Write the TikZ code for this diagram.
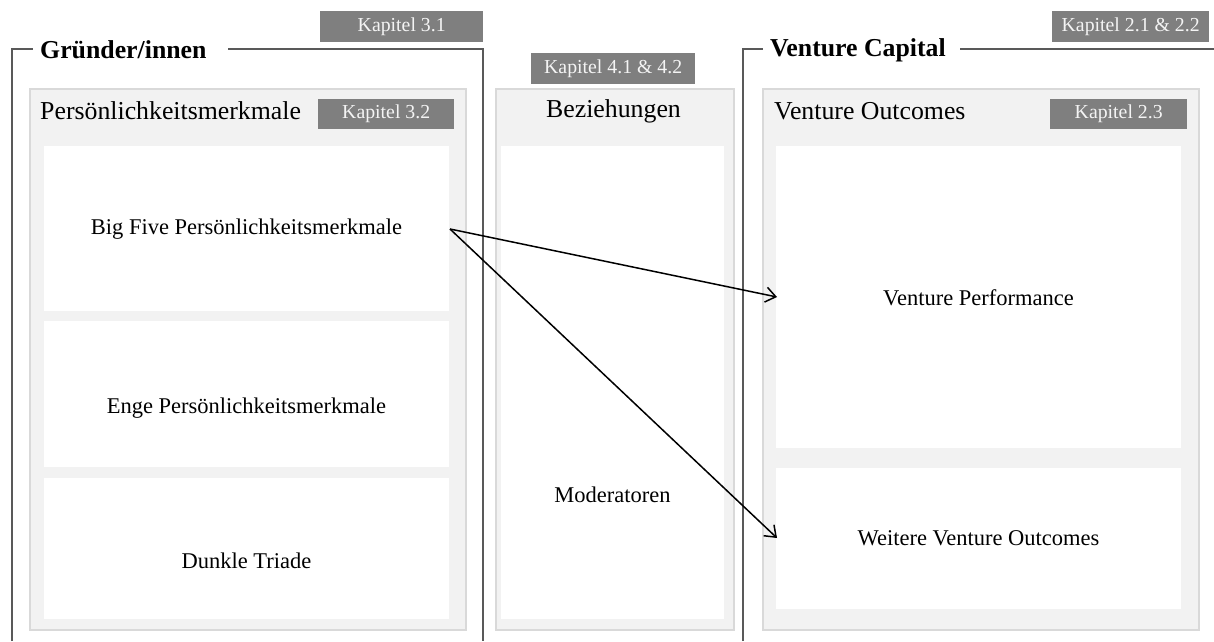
\documentclass[tikz,border=0pt]{standalone}
\usepackage{fontspec}
\setmainfont{Liberation Serif}
\usetikzlibrary{arrows.meta}
\definecolor{panelfill}{HTML}{F2F2F2}
\definecolor{panelline}{HTML}{D9D9D9}
\definecolor{kapfill}{HTML}{7F7F7F}
\definecolor{kaptext}{HTML}{F4F4F4}
\definecolor{frameline}{HTML}{595959}
\tikzset{
  panel/.style={draw=panelline, fill=panelfill, line width=2pt, anchor=north west, inner sep=0pt},
  whitebox/.style={fill=white, draw=none, anchor=north west, inner sep=0pt},
  kap/.style={fill=kapfill, text=kaptext, anchor=north west, inner sep=0pt, font=\fontsize{19.8}{23}\selectfont},
  body/.style={font=\fontsize{22.5}{27}\selectfont, inner sep=0pt},
  head/.style={font=\fontsize{25.8}{30}\selectfont, inner sep=0pt},
  grptitle/.style={font=\fontsize{25.8}{30}\selectfont\bfseries, inner sep=0pt, anchor=west},
  frame/.style={draw=frameline, line width=1.5pt},
  conn/.style={line width=1.5pt, -{Straight Barb[length=10pt,width=15pt,line width=1.5pt]}}
}
\begin{document}
\begin{tikzpicture}[x=1pt,y=-1pt]
\useasboundingbox (0,0) rectangle (1214,641);
% group frames
\node[grptitle] (tG) at (40,50) {Gründer/innen};
\node[grptitle] (tV) at (770,50) {Venture Capital};
\draw[frame] (12,641) |- (33,49);
\draw[frame] (228,49) -| (483,641);
\draw[frame] (743,641) |- (763,49);
\draw[frame] (960,49) -- (1214,49);
% chapter labels (top)
\node[kap, minimum width=163pt, minimum height=31pt] (k31) at (320,11) {Kapitel 3.1};
\node[kap, minimum width=157pt, minimum height=31pt] (k21) at (1052,11) {Kapitel 2.1 \& 2.2};
\node[kap, minimum width=164pt, minimum height=31pt] (k41) at (531,53) {Kapitel 4.1 \& 4.2};
% panels
\node[panel, minimum width=436pt, minimum height=541pt] (pL) at (29,88) {};
\node[panel, minimum width=238pt, minimum height=541pt] (pM) at (494.5,88) {};
\node[panel, minimum width=436pt, minimum height=541pt] (pR) at (762,88) {};
\node[kap, minimum width=136pt, minimum height=30pt] (k32) at (318,99) {Kapitel 3.2};
\node[kap, minimum width=137pt, minimum height=30pt] (k23) at (1050,99) {Kapitel 2.3};
\node[head, anchor=west] (hL) at (40,111) {Persönlichkeitsmerkmale};
\node[head] (hM) at (613.5,111) {Beziehungen};
\node[head, anchor=west] (hR) at (774,111) {Venture Outcomes};
% white boxes
\node[whitebox, minimum width=405pt, minimum height=165pt] (b1) at (44,146) {};
\node[whitebox, minimum width=405pt, minimum height=146pt] (b2) at (44,321) {};
\node[whitebox, minimum width=405pt, minimum height=141pt] (b3) at (44,478) {};
\node[whitebox, minimum width=223pt, minimum height=473pt] (bm) at (501,146) {};
\node[whitebox, minimum width=405pt, minimum height=302pt] (r1) at (776,146) {};
\node[whitebox, minimum width=405pt, minimum height=141pt] (r2) at (776,468) {};
% texts
\node[body] (t1) at (246.5,229) {Big Five Persönlichkeitsmerkmale};
\node[body] (t2) at (246.5,408) {Enge Persönlichkeitsmerkmale};
\node[body] (t3) at (246.5,561) {Dunkle Triade};
\node[body] (tm) at (612.5,495) {Moderatoren};
\node[body] (tr1) at (978.5,298) {Venture Performance};
\node[body] (tr2) at (978.5,538) {Weitere Venture Outcomes};
% arrows
\coordinate (s) at (450,229);
\coordinate (e1) at (777,297);
\coordinate (e2) at (777,538);
\draw[conn] (s) -- (e1);
\draw[conn] (s) -- (e2);
\end{tikzpicture}
\end{document}
